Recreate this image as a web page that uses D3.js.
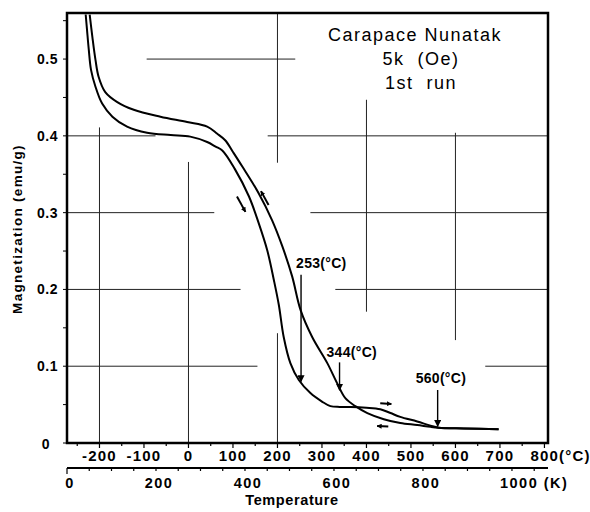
<!DOCTYPE html>
<html>
<head>
<meta charset="utf-8">
<script src="https://cdn.jsdelivr.net/npm/d3@7"></script>
<style>
  html, body { margin: 0; padding: 0; background: #fff; }
  svg { display: block; }
  text { fill: #000; }
</style>
</head>
<body>
<svg id="chart" width="590" height="512"></svg>
<script>
// ---- data ----
// Heating run (lower branch at low temperature)
const heatT = [-231, -228, -224, -219, -209, -194, -171, -138, -93, -40, 4, 42, 61, 76, 104, 136, 158, 177, 192, 203, 214, 229, 248, 274, 300, 319, 340, 364, 400, 431, 454, 476, 514, 544, 562, 619, 697];
const heatM = [0.558, 0.538, 0.512, 0.486, 0.464, 0.442, 0.425, 0.412, 0.404, 0.401, 0.399, 0.392, 0.386, 0.381, 0.357, 0.321, 0.286, 0.251, 0.212, 0.180, 0.138, 0.104, 0.082, 0.065, 0.054, 0.048, 0.047, 0.047, 0.046, 0.044, 0.039, 0.034, 0.028, 0.0226, 0.020, 0.019, 0.018];
// Cooling run (upper branch at low temperature)
const coolT = [-222, -216, -209, -202, -187, -160, -123, -63, -3, 42, 64, 83, 100, 121, 158, 188, 211, 233, 252, 278, 312, 334, 353, 375, 402, 439, 476, 514, 544, 562, 619, 697];
const coolM = [0.558, 0.529, 0.499, 0.477, 0.457, 0.444, 0.434, 0.425, 0.418, 0.412, 0.403, 0.394, 0.379, 0.360, 0.325, 0.290, 0.256, 0.217, 0.173, 0.138, 0.104, 0.078, 0.058, 0.048, 0.039, 0.031, 0.026, 0.0234, 0.021, 0.020, 0.019, 0.018];

const yTicks = [0, 0.1, 0.2, 0.3, 0.4, 0.5];
const yTickLabels = ["0", "0.1", "0.2", "0.3", "0.4", "0.5"];
const cTicks = [-200, -100, 0, 100, 200, 300, 400, 500, 600, 700, 800];
const cTickLabels = ["-200", "-100", "0", "100", "200", "300", "400", "500", "600", "700", "800(°C)"];
const kTicks = [0, 200, 400, 600, 800, 1000];
const kTickLabels = ["0", "200", "400", "600", "800", "1000 (K)"];

const titleLines = ["Carapace Nunatak", "5k  (Oe)", "1st  run"];

// Curie / transition temperature annotations
const annoT = [253, 344, 560];
const annoLabels = ["253(°C)", "344(°C)", "560(°C)"];

// partial grid segments of the graph paper
const hGrid = [
  {m: 0.5, t0: -94, t1: 240},
  {m: 0.4, t0: -273, t1: -74}, {m: 0.4, t0: 178, t1: 808},
  {m: 0.3, t0: -273, t1: 58}, {m: 0.3, t0: 274, t1: 808},
  {m: 0.2, t0: -273, t1: 117}, {m: 0.2, t0: 330, t1: 808},
  {m: 0.1, t0: -273, t1: 155}, {m: 0.1, t0: 667, t1: 808}
];
const vGrid = [
  {t: -200, m0: 0, m1: 0.411},
  {t: 0, m0: 0, m1: 0.366},
  {t: 200, m0: 0.365, m1: 0.56}, {t: 200, m0: 0, m1: 0.143},
  {t: 400, m0: 0.171, m1: 0.447},
  {t: 600, m0: 0.134, m1: 0.404}
];

// ---- layout ----
const L = 67, R = 548, T = 13, B = 443;
const svg = d3.select("#chart");
const x = d3.scaleLinear().domain([-273, 808]).range([L, R]);
const xK = d3.scaleLinear().domain([0, 1081]).range([L, R]);
const y = d3.scaleLinear().domain([0, 0.56]).range([B, T]);
const FONT = "'Liberation Sans', Arial, Helvetica, sans-serif";

const defs = svg.append("defs");
defs.append("clipPath").attr("id", "clip")
  .append("rect").attr("x", L).attr("y", T).attr("width", R - L).attr("height", B - T);
defs.append("marker").attr("id", "head")
  .attr("viewBox", "0 0 10 10").attr("refX", 9).attr("refY", 5)
  .attr("markerWidth", 7).attr("markerHeight", 7).attr("markerUnits", "userSpaceOnUse")
  .attr("orient", "auto")
  .append("path").attr("d", "M0,0 L10,5 L0,10 Z").attr("fill", "#000");
defs.append("marker").attr("id", "headS")
  .attr("viewBox", "0 0 10 10").attr("refX", 9).attr("refY", 5)
  .attr("markerWidth", 5).attr("markerHeight", 5).attr("markerUnits", "userSpaceOnUse")
  .attr("orient", "auto")
  .append("path").attr("d", "M0,0 L10,5 L0,10 Z").attr("fill", "#000");

// grid
const g = svg.append("g").attr("stroke", "#222").attr("stroke-width", 1);
g.selectAll("line.h").data(hGrid).join("line")
  .attr("x1", d => x(d.t0)).attr("x2", d => x(d.t1))
  .attr("y1", d => y(d.m)).attr("y2", d => y(d.m));
g.selectAll("line.v").data(vGrid).join("line")
  .attr("x1", d => x(d.t)).attr("x2", d => x(d.t))
  .attr("y1", d => y(d.m0)).attr("y2", d => y(d.m1));

// curves
const line = d3.line().curve(d3.curveCatmullRom.alpha(0.5))
  .x(d => x(d[0])).y(d => y(d[1]));
const curves = svg.append("g").attr("clip-path", "url(#clip)");
curves.append("path").datum(heatT.map((t, i) => [t, heatM[i]]))
  .attr("d", line).attr("fill", "none").attr("stroke", "#000").attr("stroke-width", 2);
curves.append("path").datum(coolT.map((t, i) => [t, coolM[i]]))
  .attr("d", line).attr("fill", "none").attr("stroke", "#000").attr("stroke-width", 2);

// frame
svg.append("rect").attr("x", L).attr("y", T).attr("width", R - L).attr("height", B - T)
  .attr("fill", "none").attr("stroke", "#000").attr("stroke-width", 2.5);

// Y axis ticks and labels
const yMinor = d3.range(0, 0.56, 0.05);
svg.append("g").selectAll("line").data(yMinor).join("line")
  .attr("x1", L - 4).attr("x2", L).attr("y1", d => y(d)).attr("y2", d => y(d))
  .attr("stroke", "#000").attr("stroke-width", 1);
svg.append("g").selectAll("text").data(yTicks).join("text")
  .attr("x", (d, i) => i === 0 ? 46 : 58)
  .attr("y", (d, i) => y(d) + (i === 0 ? 6 : 5))
  .attr("text-anchor", (d, i) => i === 0 ? "middle" : "end")
  .attr("font-family", FONT).attr("font-weight", "bold").attr("font-size", 14)
  .attr("letter-spacing", 0.5)
  .text((d, i) => yTickLabels[i]);

svg.append("text")
  .attr("transform", "translate(22,229) rotate(-90)")
  .attr("text-anchor", "middle")
  .attr("font-family", FONT).attr("font-weight", "bold").attr("font-size", 13.5)
  .attr("letter-spacing", 1.3)
  .text("Magnetization (emu/g)");

// Celsius axis ticks and labels
const cMinor = d3.range(-250, 801, 50);
svg.append("g").selectAll("line").data(cMinor).join("line")
  .attr("x1", d => x(d)).attr("x2", d => x(d))
  .attr("y1", B).attr("y2", d => B + (d % 100 === 0 ? 5 : 3))
  .attr("stroke", "#000").attr("stroke-width", 1.2);
svg.append("g").selectAll("text").data(cTicks).join("text")
  .attr("x", d => x(d)).attr("y", 461)
  .attr("text-anchor", (d, i) => i === cTicks.length - 1 ? "start" : "middle")
  .attr("dx", (d, i) => i === cTicks.length - 1 ? -14 : 0)
  .attr("font-family", FONT).attr("font-weight", "bold").attr("font-size", 15)
  .attr("letter-spacing", 1.2)
  .text((d, i) => cTickLabels[i]);

// Kelvin axis
const KY = 468;
svg.append("line").attr("x1", xK(0)).attr("x2", R).attr("y1", KY).attr("y2", KY)
  .attr("stroke", "#000").attr("stroke-width", 2);
const kMinor = d3.range(0, 1081, 50);
svg.append("g").selectAll("line").data(kMinor).join("line")
  .attr("x1", d => xK(d)).attr("x2", d => xK(d))
  .attr("y1", KY).attr("y2", d => KY + (d === 0 ? 6 : 3))
  .attr("stroke", "#000").attr("stroke-width", 1.2);
svg.append("g").selectAll("text").data(kTicks).join("text")
  .attr("x", d => xK(d)).attr("y", 488)
  .attr("text-anchor", (d, i) => i === kTicks.length - 1 ? "start" : "middle")
  .attr("dx", (d, i) => i === 0 ? 3 : (i === kTicks.length - 1 ? -12 : 3))
  .attr("font-family", FONT).attr("font-weight", "bold").attr("font-size", 14.5)
  .attr("letter-spacing", 1.5)
  .text((d, i) => kTickLabels[i]);

svg.append("text").attr("x", 292).attr("y", 505).attr("text-anchor", "middle")
  .attr("font-family", FONT).attr("font-weight", "bold").attr("font-size", 14.5)
  .attr("letter-spacing", 0.6)
  .text("Temperature");

// title block
svg.append("g").selectAll("text").data(titleLines).join("text")
  .attr("x", (d, i) => i === 0 ? 415 : 421)
  .attr("y", (d, i) => [41, 65, 89][i])
  .attr("text-anchor", "middle")
  .attr("font-family", FONT).attr("font-size", 18)
  .attr("letter-spacing", 1.5)
  .style("white-space", "pre")
  .text(d => d);

// annotation arrows (value read from where each arrow points)
const heatAt = t => d3.scaleLinear().domain(heatT).range(heatM)(t);
const coolAt = t => d3.scaleLinear().domain(coolT).range(coolM)(t);
const annoTargets = [heatAt(annoT[0]), coolAt(annoT[1]), heatAt(annoT[2])];
const annoTopM = [0.219, 0.105, 0.069];
const annoLabelDx = [-5, -13, -22];
const annoLabelDy = [-7, -5, -7];
const aG = svg.append("g");
annoT.forEach((t, i) => {
  const ax = x(t) - (i === 1 ? 2 : 0);
  aG.append("line").attr("x1", ax).attr("x2", ax)
    .attr("y1", y(annoTopM[i])).attr("y2", y(annoTargets[i]) - 1)
    .attr("stroke", "#000").attr("stroke-width", 1.4).attr("marker-end", "url(#head)");
  aG.append("text")
    .attr("x", ax + annoLabelDx[i]).attr("y", y(annoTopM[i]) + annoLabelDy[i])
    .attr("font-family", FONT).attr("font-weight", "bold").attr("font-size", 14)
    .attr("letter-spacing", 0.3)
    .text(annoLabels[i]);
});

// small direction arrows along the curves
const dirArrows = [
  {t0: 109, m0: 0.321, t1: 128, m1: 0.301},   // heating, down
  {t0: 180, m0: 0.310, t1: 163, m1: 0.328},   // cooling, up
  {t0: 431, m0: 0.0517, t1: 456, m1: 0.0508}, // heating, right
  {t0: 449, m0: 0.0215, t1: 424, m1: 0.0222}  // cooling, left
];
svg.append("g").selectAll("line").data(dirArrows).join("line")
  .attr("x1", d => x(d.t0)).attr("y1", d => y(d.m0))
  .attr("x2", d => x(d.t1)).attr("y2", d => y(d.m1))
  .attr("stroke", "#000").attr("stroke-width", 2).attr("marker-end", "url(#headS)");
</script>
</body>
</html>
